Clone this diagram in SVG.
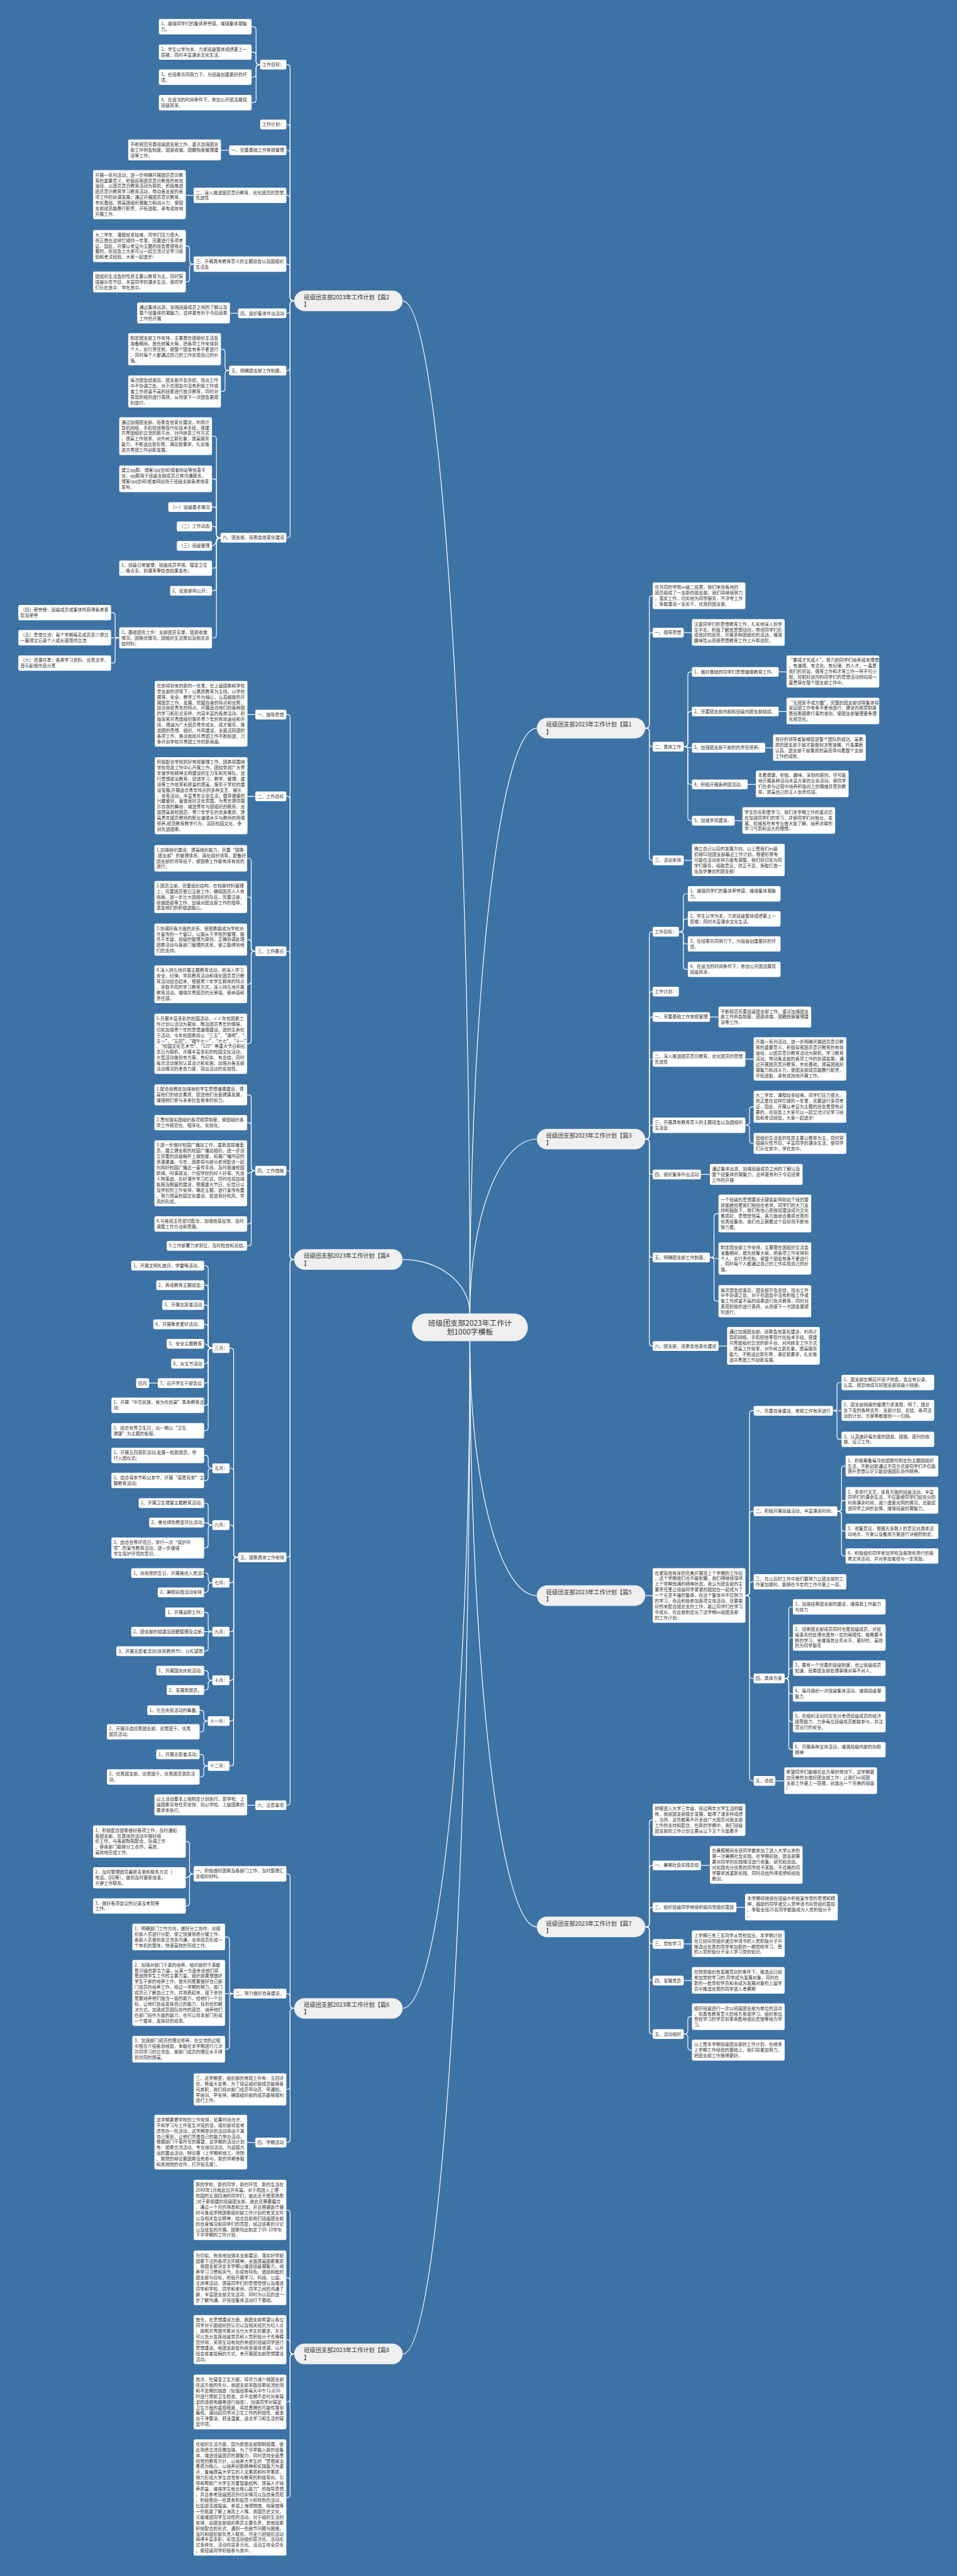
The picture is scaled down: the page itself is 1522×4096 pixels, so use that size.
<svg xmlns="http://www.w3.org/2000/svg" width="1522" height="4096" viewBox="0 0 1522 4096">
<style>
rect{fill:#fff}
rect.m{fill:#efefef}
text{font-family:"Noto Sans CJK SC","Noto Sans",sans-serif;font-size:11.8px;fill:#333}
text.t2{font-size:15.5px}
text.t0{font-size:20px}
.c path{fill:none;stroke:#fff;stroke-width:2}
</style>
<rect x="0" y="0" width="1522" height="4096" style="fill:#3d72a5"/>
<g transform="scale(0.59453)">
<g class="c" id="connectors">
<path d="M1257 3513C1257 2018 1176.4 804.5 1077 804.5"/>
<path d="M1257 3513C1257 2649 1337.2 1947.5 1436 1947.5"/>
<path d="M1257 3513C1257 3255.5 1337.2 3046.5 1436 3046.5"/>
<path d="M1257 3513C1257 3433.2 1176.4 3368.5 1077 3368.5"/>
<path d="M1257 3587C1257 3962.6 1337.2 4267.5 1436 4267.5"/>
<path d="M1257 3587C1257 4571.8 1176.4 5371 1077 5371"/>
<path d="M1257 3587C1257 4451.7 1337.2 5153.5 1436 5153.5"/>
<path d="M1257 3587C1257 5082.4 1176.4 6296 1077 6296"/>
<path d="M1726 1947.5Q1737 1947.5 1737 1939.5V1601.5Q1737 1593.5 1745 1593.5H1746"/>
<path d="M1726 1947.5Q1737 1947.5 1737 1939.5V1700Q1737 1692 1745 1692H1746"/>
<path d="M1726 1947.5Q1737 1947.5 1737 1955.5V1989Q1737 1997 1745 1997H1746"/>
<path d="M1726 1947.5Q1737 1947.5 1737 1955.5V2293Q1737 2301 1745 2301H1746"/>
<path d="M1829 1692H1851"/>
<path d="M1829 1997Q1840 1997 1840 1989V1805Q1840 1797 1848 1797H1851"/>
<path d="M1829 1997Q1840 1997 1840 1989V1911Q1840 1903 1848 1903H1851"/>
<path d="M1829 1997C1840 1997 1840 2000 1851 2000"/>
<path d="M1829 1997Q1840 1997 1840 2005V2090Q1840 2098 1848 2098H1851"/>
<path d="M1829 1997Q1840 1997 1840 2005V2187Q1840 2195 1848 2195H1851"/>
<path d="M2083 1797H2104"/><path d="M2083 1903H2104"/><path d="M2047 2000H2068"/><path d="M2000 2098H2022"/><path d="M1965 2195H1986"/>
<path d="M1829 2301H1851"/>
<path d="M1726 3046.5Q1737 3046.5 1737 3038.5V2500Q1737 2492 1745 2492H1746"/>
<path d="M1726 3046.5Q1737 3046.5 1737 3038.5V2660Q1737 2652 1745 2652H1746"/>
<path d="M1726 3046.5Q1737 3046.5 1737 3038.5V2728Q1737 2720 1745 2720H1746"/>
<path d="M1726 3046.5Q1737 3046.5 1737 3038.5V2840.5Q1737 2832.5 1745 2832.5H1746"/>
<path d="M1726 3046.5Q1737 3046.5 1737 3038.5V3017.5Q1737 3009.5 1745 3009.5H1746"/>
<path d="M1726 3046.5Q1737 3046.5 1737 3054.5V3133Q1737 3141 1745 3141H1746"/>
<path d="M1726 3046.5Q1737 3046.5 1737 3054.5V3355Q1737 3363 1745 3363H1746"/>
<path d="M1726 3046.5Q1737 3046.5 1737 3054.5V3592Q1737 3600 1745 3600H1746"/>
<path d="M1816 2492Q1828 2492 1828 2484V2398.5Q1828 2390.5 1836 2390.5H1840"/>
<path d="M1816 2492Q1828 2492 1828 2484V2465.5Q1828 2457.5 1836 2457.5H1840"/>
<path d="M1816 2492Q1828 2492 1828 2500V2516.5Q1828 2524.5 1836 2524.5H1840"/>
<path d="M1816 2492Q1828 2492 1828 2500V2584.5Q1828 2592.5 1836 2592.5H1840"/>
<path d="M1899 2720H1922"/>
<path d="M1994 2832.5H2016"/>
<path d="M1994 3009.5Q2005 3009.5 2005 3001.5V2968Q2005 2960 2013 2960H2016"/>
<path d="M1994 3009.5Q2005 3009.5 2005 3017.5V3050Q2005 3058 2013 3058H2016"/>
<path d="M1875 3141H1899"/>
<path d="M1899 3363Q1910 3363 1910 3355V3253.5Q1910 3245.5 1918 3245.5H1922"/>
<path d="M1899 3363C1910 3363 1910 3366 1922 3366"/>
<path d="M1899 3363Q1910 3363 1910 3371V3472Q1910 3480 1918 3480H1922"/>
<path d="M1922 3600H1945"/>
<path d="M1726 4267.5H1746"/>
<path d="M1994 4267Q2005 4267 2005 4259V3781Q2005 3773 2013 3773H2016"/>
<path d="M1994 4267Q2005 4267 2005 4259V4050Q2005 4042 2013 4042H2016"/>
<path d="M1994 4267Q2005 4267 2005 4259V4238.5Q2005 4230.5 2013 4230.5H2016"/>
<path d="M1994 4267Q2005 4267 2005 4275V4481Q2005 4489 2013 4489H2016"/>
<path d="M1994 4267Q2005 4267 2005 4275V4755Q2005 4763 2013 4763H2016"/>
<path d="M2228 3773Q2239 3773 2239 3765V3705.5Q2239 3697.5 2247 3697.5H2251"/>
<path d="M2228 3773H2251"/>
<path d="M2228 3773Q2239 3773 2239 3781V3841.5Q2239 3849.5 2247 3849.5H2251"/>
<path d="M2240 4042Q2251 4042 2251 4034V3929Q2251 3921 2259 3921H2262"/>
<path d="M2240 4042Q2251 4042 2251 4034V4020.5Q2251 4012.5 2259 4012.5H2262"/>
<path d="M2240 4042Q2251 4042 2251 4050V4087.5Q2251 4095.5 2259 4095.5H2262"/>
<path d="M2240 4042Q2251 4042 2251 4050V4153.5Q2251 4161.5 2259 4161.5H2262"/>
<path d="M2099 4489Q2110 4489 2110 4481V4305.5Q2110 4297.5 2118 4297.5H2121"/>
<path d="M2099 4489Q2110 4489 2110 4481V4387.5Q2110 4379.5 2118 4379.5H2121"/>
<path d="M2099 4489Q2110 4489 2110 4481V4469.5Q2110 4461.5 2118 4461.5H2121"/>
<path d="M2099 4489Q2110 4489 2110 4497V4522.5Q2110 4530.5 2118 4530.5H2121"/>
<path d="M2099 4489Q2110 4489 2110 4497V4597Q2110 4605 2118 4605H2121"/>
<path d="M2099 4489Q2110 4489 2110 4497V4671.5Q2110 4679.5 2118 4679.5H2121"/>
<path d="M2074 4763H2098"/>
<path d="M1726 5153.5Q1737 5153.5 1737 5145.5V4875Q1737 4867 1745 4867H1746"/>
<path d="M1726 5153.5Q1737 5153.5 1737 5145.5V4997Q1737 4989 1745 4989H1746"/>
<path d="M1726 5153.5Q1737 5153.5 1737 5145.5V5109Q1737 5101 1745 5101H1746"/>
<path d="M1726 5153.5Q1737 5153.5 1737 5161.5V5191Q1737 5199 1745 5199H1746"/>
<path d="M1726 5153.5Q1737 5153.5 1737 5161.5V5289Q1737 5297 1745 5297H1746"/>
<path d="M1726 5153.5Q1737 5153.5 1737 5161.5V5432Q1737 5440 1745 5440H1746"/>
<path d="M1875 4989H1899"/><path d="M1970 5101H1993"/><path d="M1829 5199H1851"/><path d="M1829 5297H1851"/>
<path d="M1829 5440Q1840 5440 1840 5432V5401.5Q1840 5393.5 1848 5393.5H1851"/>
<path d="M1829 5440Q1840 5440 1840 5448V5475Q1840 5483 1848 5483H1851"/>
<path d="M787 804.5Q776 804.5 776 796.5V181Q776 173 768 173H766"/>
<path d="M787 804.5Q776 804.5 776 796.5V341Q776 333 768 333H766"/>
<path d="M787 804.5Q776 804.5 776 796.5V410Q776 402 768 402H766"/>
<path d="M787 804.5Q776 804.5 776 796.5V530.5Q776 522.5 768 522.5H766"/>
<path d="M787 804.5Q776 804.5 776 796.5V714.5Q776 706.5 768 706.5H766"/>
<path d="M787 804.5Q776 804.5 776 812.5V830Q776 838 768 838H766"/>
<path d="M787 804.5Q776 804.5 776 812.5V983Q776 991 768 991H766"/>
<path d="M787 804.5Q776 804.5 776 812.5V1430Q776 1438 768 1438H766"/>
<path d="M696 173Q685 173 685 165V79.5Q685 71.5 677 71.5H673"/>
<path d="M696 173Q685 173 685 165V147.5Q685 139.5 677 139.5H673"/>
<path d="M696 173Q685 173 685 181V198.5Q685 206.5 677 206.5H673"/>
<path d="M696 173Q685 173 685 181V266.5Q685 274.5 677 274.5H673"/>
<path d="M613 402H591"/>
<path d="M518 522.5H497"/>
<path d="M518 706.5Q507 706.5 507 698.5V666Q507 658 499 658H497"/>
<path d="M518 706.5Q507 706.5 507 714.5V746Q507 754 499 754H497"/>
<path d="M637 838H615"/>
<path d="M613 991Q602 991 602 983V942Q602 934 594 934H591"/>
<path d="M613 991Q602 991 602 999V1039Q602 1047 594 1047H591"/>
<path d="M590 1438Q579 1438 579 1430V1174.5Q579 1166.5 571 1166.5H567"/>
<path d="M590 1438Q579 1438 579 1430V1288.5Q579 1280.5 571 1280.5H567"/>
<path d="M590 1438Q579 1438 579 1430V1364Q579 1356 571 1356H567"/>
<path d="M590 1438Q579 1438 579 1430V1416Q579 1408 571 1408H567"/>
<path d="M590 1438C579 1438 579 1460 567 1460"/>
<path d="M590 1438Q579 1438 579 1446V1511.5Q579 1519.5 571 1519.5H567"/>
<path d="M590 1438Q579 1438 579 1446V1572Q579 1580 571 1580H567"/>
<path d="M590 1438Q579 1438 579 1446V1698Q579 1706 571 1706H567"/>
<path d="M319 1706Q308 1706 308 1698V1646.5Q308 1638.5 300 1638.5H297"/>
<path d="M319 1706H297"/>
<path d="M319 1706Q308 1706 308 1714V1765.5Q308 1773.5 300 1773.5H297"/>
<path d="M787 3368.5Q776 3368.5 776 3360.5V1919Q776 1911 768 1911H766"/>
<path d="M787 3368.5Q776 3368.5 776 3360.5V2138Q776 2130 768 2130H766"/>
<path d="M787 3368.5Q776 3368.5 776 3360.5V2552Q776 2544 768 2544H766"/>
<path d="M787 3368.5Q776 3368.5 776 3360.5V3139Q776 3131 768 3131H766"/>
<path d="M787 3368.5Q776 3368.5 776 3376.5V4157Q776 4165 768 4165H766"/>
<path d="M787 3368.5Q776 3368.5 776 3376.5V4820Q776 4828 768 4828H766"/>
<path d="M683 1911H662"/><path d="M683 2130H662"/>
<path d="M683 2544Q672 2544 672 2536V2303.5Q672 2295.5 664 2295.5H661"/>
<path d="M683 2544Q672 2544 672 2536V2407Q672 2399 664 2399H661"/>
<path d="M683 2544Q672 2544 672 2536V2521Q672 2513 664 2513H661"/>
<path d="M683 2544Q672 2544 672 2552V2624.5Q672 2632.5 664 2632.5H661"/>
<path d="M683 2544Q672 2544 672 2552V2783.5Q672 2791.5 664 2791.5H661"/>
<path d="M683 3131Q672 3131 672 3123V2936Q672 2928 664 2928H661"/>
<path d="M683 3131Q672 3131 672 3123V3010.5Q672 3002.5 664 3002.5H661"/>
<path d="M683 3131C672 3131 672 3138 661 3138"/>
<path d="M683 3131Q672 3131 672 3139V3265.5Q672 3273.5 664 3273.5H661"/>
<path d="M683 3131Q672 3131 672 3139V3324Q672 3332 664 3332H661"/>
<path d="M637 4165Q625 4165 625 4157V3613.5Q625 3605.5 617 3605.5H614"/>
<path d="M637 4165Q625 4165 625 4157V3935Q625 3927 617 3927H614"/>
<path d="M637 4165Q625 4165 625 4157V4087Q625 4079 617 4079H614"/>
<path d="M637 4165Q625 4165 625 4173V4225Q625 4233 617 4233H614"/>
<path d="M637 4165Q625 4165 625 4173V4356Q625 4364 617 4364H614"/>
<path d="M637 4165Q625 4165 625 4173V4486Q625 4494 617 4494H614"/>
<path d="M637 4165Q625 4165 625 4173V4595Q625 4603 617 4603H614"/>
<path d="M637 4165Q625 4165 625 4173V4715Q625 4723 617 4723H614"/>
<path d="M568 3605.5Q557 3605.5 557 3597.5V3393Q557 3385 549 3385H546"/>
<path d="M568 3605.5Q557 3605.5 557 3597.5V3445Q557 3437 549 3437H546"/>
<path d="M568 3605.5Q557 3605.5 557 3597.5V3498Q557 3490 549 3490H546"/>
<path d="M568 3605.5Q557 3605.5 557 3597.5V3550Q557 3542 549 3542H546"/>
<path d="M568 3605.5C557 3605.5 557 3594 546 3594"/>
<path d="M568 3605.5Q557 3605.5 557 3613.5V3639Q557 3647 549 3647H546"/>
<path d="M568 3605.5Q557 3605.5 557 3613.5V3691Q557 3699 549 3699H546"/>
<path d="M568 3605.5Q557 3605.5 557 3613.5V3750.5Q557 3758.5 549 3758.5H546"/>
<path d="M568 3605.5Q557 3605.5 557 3613.5V3818Q557 3826 549 3826H546"/>
<path d="M422 3699H399"/>
<path d="M568 3927Q557 3927 557 3919V3900.5Q557 3892.5 549 3892.5H546"/>
<path d="M568 3927Q557 3927 557 3935V3952Q557 3960 549 3960H546"/>
<path d="M568 4079Q557 4079 557 4071V4028Q557 4020 549 4020H546"/>
<path d="M568 4079C557 4079 557 4072 546 4072"/>
<path d="M568 4079Q557 4079 557 4087V4132Q557 4140 549 4140H546"/>
<path d="M568 4233Q557 4233 557 4225V4215Q557 4207 549 4207H546"/>
<path d="M568 4233Q557 4233 557 4241V4251Q557 4259 549 4259H546"/>
<path d="M568 4364Q557 4364 557 4356V4320Q557 4312 549 4312H546"/>
<path d="M568 4364H546"/>
<path d="M568 4364Q557 4364 557 4372V4408Q557 4416 549 4416H546"/>
<path d="M568 4494Q557 4494 557 4486V4476Q557 4468 549 4468H546"/>
<path d="M568 4494Q557 4494 557 4502V4512Q557 4520 549 4520H546"/>
<path d="M556 4603Q545 4603 545 4595V4582Q545 4574 537 4574H534"/>
<path d="M556 4603Q545 4603 545 4611V4624Q545 4632 537 4632H534"/>
<path d="M556 4723Q545 4723 545 4715V4700Q545 4692 537 4692H534"/>
<path d="M556 4723Q545 4723 545 4731V4744.5Q545 4752.5 537 4752.5H534"/>
<path d="M683 4828H661"/>
<path d="M787 5371Q776 5371 776 5363V5019.5Q776 5011.5 768 5011.5H766"/>
<path d="M787 5371Q776 5371 776 5363V5340Q776 5332 768 5332H766"/>
<path d="M787 5371Q776 5371 776 5379V5580Q776 5588 768 5588H766"/>
<path d="M787 5371Q776 5371 776 5379V5722Q776 5730 768 5730H766"/>
<path d="M518 5011.5Q507 5011.5 507 5003.5V4933Q507 4925 499 4925H497"/>
<path d="M518 5011.5C507 5011.5 507 5022 497 5022"/>
<path d="M518 5011.5Q507 5011.5 507 5019.5V5089.5Q507 5097.5 499 5097.5H497"/>
<path d="M625 5332Q614 5332 614 5324V5188.5Q614 5180.5 606 5180.5H602"/>
<path d="M625 5332H602"/>
<path d="M625 5332Q614 5332 614 5340V5472.5Q614 5480.5 606 5480.5H602"/>
<path d="M683 5730H661"/>
<path d="M787 6296Q776 6296 776 6288V5918.5Q776 5910.5 768 5910.5H766"/>
<path d="M787 6296Q776 6296 776 6288V6100Q776 6092 768 6092H766"/>
<path d="M787 6296Q776 6296 776 6288V6265.5Q776 6257.5 768 6257.5H766"/>
<path d="M787 6296Q776 6296 776 6304V6416Q776 6424 768 6424H766"/>
<path d="M787 6296Q776 6296 776 6304V6671.5Q776 6679.5 768 6679.5H766"/>
</g>

<g id="center"><rect class="m" x="1102" y="3513" width="310" height="74" rx="37"/><text class="t0" x="1257" y="3545" text-anchor="middle"><tspan x="1257">班级团支部2023年工作计</tspan><tspan x="1257" dy="25">划1000字模板</tspan></text></g>

<g id="R1"><rect class="m" x="1436" y="1920" width="290" height="55" rx="27.5"/><text class="t2" x="1461" y="1943.5"><tspan x="1461">班级团支部2023年工作计划【篇1</tspan><tspan x="1461" dy="19">】</tspan></text></g>
<g id="R1a"><rect x="1746" y="1558" width="248" height="71" rx="4"/><text x="1751.5" y="1575"><tspan x="1751.5">在共同的学院xx级二班里，我们来自各地的</tspan><tspan x="1751.5" dy="15">团员组成了一支新的团支部。我们将继续努力</tspan><tspan x="1751.5" dy="15">，落实工作，切实地为同学服务，不浮夸工作</tspan><tspan x="1751.5" dy="15">，争取建设一支实干、优良的团支部。</tspan></text></g>
<g id="R1b"><rect x="1746" y="1679" width="83" height="26" rx="4"/><text x="1751.5" y="1696">一、指导思想</text></g>
<g id="R1b1"><rect x="1851" y="1656" width="248" height="71" rx="4"/><text x="1856.5" y="1673"><tspan x="1856.5">注重同学们的思想教育工作，扎实地深入到学</tspan><tspan x="1856.5" dy="15">生中去，积极了解其思想动向，带领同学们形</tspan><tspan x="1856.5" dy="15">成良好的班风，开展多种团组织的活动，增强</tspan><tspan x="1856.5" dy="15">趣味性从而使思想教育工作上升新台阶。</tspan></text></g>
<g id="R1c"><rect x="1746" y="1984" width="83" height="26" rx="4"/><text x="1751.5" y="2001">二、具体工作</text></g>
<g id="R1c1"><rect x="1851" y="1784" width="232" height="26" rx="4"/><text x="1856.5" y="1801">1、做好基础的同学们思想道德教育工作。</text></g>
<g id="R1c1a"><rect x="2104" y="1753" width="248" height="86" rx="4"/><text x="2109.5" y="1770"><tspan x="2109.5">“要成才先成人”。努力把同学们培养成有理想</tspan><tspan x="2109.5" dy="15">、有道德、有文化、有纪律、的人才，一直是</tspan><tspan x="2109.5" dy="15">我们的宗旨。德育工作和才育工作一样不可小</tspan><tspan x="2109.5" dy="15">视。控制好班内的同学们的思想活动倾向将一</tspan><tspan x="2109.5" dy="15">直贯穿在整个团支部工作中。</tspan></text></g>
<g id="R1c2"><rect x="1851" y="1890" width="232" height="26" rx="4"/><text x="1856.5" y="1907">2、完善团支部内部和班级内团支部组成。</text></g>
<g id="R1c2a"><rect x="2104" y="1866" width="248" height="71" rx="4"/><text x="2109.5" y="1883"><tspan x="2109.5">“无规矩不成方圆”，完整的团支部领导集体将</tspan><tspan x="2109.5" dy="15">保证团工作有条不紊地进行，健全的规章制度</tspan><tspan x="2109.5" dy="15">是班委团委行事的准则，使团支部管理更条理</tspan><tspan x="2109.5" dy="15">化规范化。</tspan></text></g>
<g id="R1c3"><rect x="1851" y="1987" width="196" height="26" rx="4"/><text x="1856.5" y="2004">3、加强团支部干部的的责任修养。</text></g>
<g id="R1c3a"><rect x="2068" y="1964" width="248" height="71" rx="4"/><text x="2073.5" y="1981"><tspan x="2073.5">良好的领导者能够促进整个团队的成功。高素</tspan><tspan x="2073.5" dy="15">质的团支部干部才能做到决策准确、行事果断</tspan><tspan x="2073.5" dy="15">认真。团支部干部素质的高低导向着整个支部</tspan><tspan x="2073.5" dy="15">工作的成败。</tspan></text></g>
<g id="R1c4"><rect x="1851" y="2085" width="149" height="26" rx="4"/><text x="1856.5" y="2102">4、积极开展各种团活动。</text></g>
<g id="R1c4a"><rect x="2022" y="2061" width="248" height="71" rx="4"/><text x="2027.5" y="2078"><tspan x="2027.5">本着健康、积极、趣味、深刻的原则，尽可能</tspan><tspan x="2027.5" dy="15">地开展各种活动丰富大家的业余活动，使同学</tspan><tspan x="2027.5" dy="15">们在参与过程中培养积极向上的情绪并受到教</tspan><tspan x="2027.5" dy="15">育，提高自己的主人翁责任感。</tspan></text></g>
<g id="R1c5"><rect x="1851" y="2182" width="114" height="26" rx="4"/><text x="1856.5" y="2199">5、加强学风建设。</text></g>
<g id="R1c5a"><rect x="1986" y="2159" width="248" height="71" rx="4"/><text x="1991.5" y="2176"><tspan x="1991.5">学生的天职是学习。我们本学期工作的重点仍</tspan><tspan x="1991.5" dy="15">在加强同学们的学习，并使同学们对就业、发</tspan><tspan x="1991.5" dy="15">展、机械系所有专业做大致了解，培养浓厚的</tspan><tspan x="1991.5" dy="15">学习气氛和远大的理想。</tspan></text></g>
<g id="R1d"><rect x="1746" y="2288" width="83" height="26" rx="4"/><text x="1751.5" y="2305">三、活动安排</text></g>
<g id="R1d1"><rect x="1851" y="2257" width="248" height="86" rx="4"/><text x="1856.5" y="2274"><tspan x="1856.5">确立自己以后的发展方向。以上是我们xx级</tspan><tspan x="1856.5" dy="15">机械02班团支部最近工作计划，根据形势有</tspan><tspan x="1856.5" dy="15">可能在活动安排方面有调整。我们将切实为同</tspan><tspan x="1856.5" dy="15">学们服务，吸取意见，改正不足，争取打造一</tspan><tspan x="1856.5" dy="15">支品学兼优的团支部!</tspan></text></g>

<g id="R3"><rect class="m" x="1436" y="3019" width="290" height="55" rx="27.5"/><text class="t2" x="1461" y="3042.5"><tspan x="1461">班级团支部2023年工作计划【篇3</tspan><tspan x="1461" dy="19">】</tspan></text></g>
<g id="R3a"><rect x="1746" y="2479" width="70" height="26" rx="4"/><text x="1751.5" y="2496">工作目标：</text></g>
<g id="R3a1"><rect x="1840" y="2370" width="248" height="41" rx="4"/><text x="1845.5" y="2387"><tspan x="1845.5">1、增强同学们的集体荣誉感、增强集体凝聚</tspan><tspan x="1845.5" dy="15">力。</tspan></text></g>
<g id="R3a2"><rect x="1840" y="2437" width="248" height="41" rx="4"/><text x="1845.5" y="2454"><tspan x="1845.5">2、学生以学为本，力求班级整体成绩更上一</tspan><tspan x="1845.5" dy="15">层楼；同时丰富课余文化生活。</tspan></text></g>
<g id="R3a3"><rect x="1840" y="2504" width="248" height="41" rx="4"/><text x="1845.5" y="2521"><tspan x="1845.5">3、在班委共同努力下，为班级创建更好的环</tspan><tspan x="1845.5" dy="15">境。</tspan></text></g>
<g id="R3a4"><rect x="1840" y="2572" width="248" height="41" rx="4"/><text x="1845.5" y="2589"><tspan x="1845.5">4、在适当的时间条件下，参加公开团活展现</tspan><tspan x="1845.5" dy="15">班级风采。</tspan></text></g>
<g id="R3b"><rect x="1746" y="2639" width="70" height="26" rx="4"/><text x="1751.5" y="2656">工作计划：</text></g>
<g id="R3c"><rect x="1746" y="2707" width="153" height="26" rx="4"/><text x="1751.5" y="2724">一、完善基础工作常规管理</text></g>
<g id="R3c1"><rect x="1922" y="2692" width="248" height="56" rx="4"/><text x="1927.5" y="2709"><tspan x="1927.5">不断规范完善班级团支部工作，重点加强团支</tspan><tspan x="1927.5" dy="15">部工作例会制度、团费收缴、团籍档案管理建</tspan><tspan x="1927.5" dy="15">设等工作。</tspan></text></g>
<g id="R3d"><rect x="1746" y="2812" width="248" height="41" rx="4"/><text x="1751.5" y="2829"><tspan x="1751.5">二、深入推进团员意识教育，优化团员的思想</tspan><tspan x="1751.5" dy="15">先进性</tspan></text></g>
<g id="R3d1"><rect x="2016" y="2774" width="248" height="116" rx="4"/><text x="2021.5" y="2791"><tspan x="2021.5">开展一系列活动，进一步明确开展团员意识教</tspan><tspan x="2021.5" dy="15">育的重要意义，积极探索团员意识教育的有效</tspan><tspan x="2021.5" dy="15">途径。以团员意识教育活动为契机，学习教育</tspan><tspan x="2021.5" dy="15">活动，带动各支部的各项工作的协调发展；通</tspan><tspan x="2021.5" dy="15">过开展团员意识教育，夯实基础，提高团组织</tspan><tspan x="2021.5" dy="15">凝聚力和战斗力，使团支部成员能履行职责，</tspan><tspan x="2021.5" dy="15">开拓进取，卓有成效地开展工作。</tspan></text></g>
<g id="R3e"><rect x="1746" y="2989" width="248" height="41" rx="4"/><text x="1751.5" y="3006"><tspan x="1751.5">三、开展具有教育意义的主题班会以及团组织</tspan><tspan x="1751.5" dy="15">生活会</tspan></text></g>
<g id="R3e1"><rect x="2016" y="2917" width="248" height="86" rx="4"/><text x="2021.5" y="2934"><tspan x="2021.5">大二学年，课程较多较难，同学们压力很大。</tspan><tspan x="2021.5" dy="15">而正是在这样忙碌的一年里，还要进行多项考</tspan><tspan x="2021.5" dy="15">证，因此，开展以考证为主题的班会是很有必</tspan><tspan x="2021.5" dy="15">要的，在班会上大家可以一起交流讨论学习经</tspan><tspan x="2021.5" dy="15">验和考试经验，大家一起进步!</tspan></text></g>
<g id="R3e2"><rect x="2016" y="3030" width="248" height="56" rx="4"/><text x="2021.5" y="3047"><tspan x="2021.5">团组织生活会的性质主要以教育为主，同时穿</tspan><tspan x="2021.5" dy="15">插娱乐性节目，丰富同学的课余生活，使同学</tspan><tspan x="2021.5" dy="15">们乐在其中，学在其中。</tspan></text></g>
<g id="R3f"><rect x="1746" y="3128" width="129" height="26" rx="4"/><text x="1751.5" y="3145">四、组织集体外出活动</text></g>
<g id="R3f1"><rect x="1899" y="3113" width="248" height="56" rx="4"/><text x="1904.5" y="3130"><tspan x="1904.5">通过集体出游，加强班级成员之间的了解以及</tspan><tspan x="1904.5" dy="15">整个班集体的凝聚力，这样更有利于今后班委</tspan><tspan x="1904.5" dy="15">工作的开展</tspan></text></g>
<g id="R3g"><rect x="1746" y="3350" width="153" height="26" rx="4"/><text x="1751.5" y="3367">五、明确团支部工作制度。</text></g>
<g id="R3g1"><rect x="1922" y="3195" width="248" height="101" rx="4"/><text x="1927.5" y="3212"><tspan x="1927.5">一个班级的思想建设无疑会影响到这个班的整</tspan><tspan x="1927.5" dy="15">体面貌但是我们相信在老师、同学们的大力支</tspan><tspan x="1927.5" dy="15">持和鼓励下，我们有信心把我班建设成为文化</tspan><tspan x="1927.5" dy="15">素质好，思想觉悟高，各方面综合素质优秀的</tspan><tspan x="1927.5" dy="15">优秀班集体。我们也正朝着这个目标而不断地</tspan><tspan x="1927.5" dy="15">努力着。</tspan></text></g>
<g id="R3g2"><rect x="1922" y="3323" width="248" height="86" rx="4"/><text x="1927.5" y="3340"><tspan x="1927.5">制定团支部工作安排。主要是在团组织生活会</tspan><tspan x="1927.5" dy="15">准备期间，首先统筹大局，把各项工作安排到</tspan><tspan x="1927.5" dy="15">个人，实行责任制，使整个团会有条不紊进行</tspan><tspan x="1927.5" dy="15">，同时每个人都通过自己的工作实现自己的价</tspan><tspan x="1927.5" dy="15">值。</tspan></text></g>
<g id="R3g3"><rect x="1922" y="3437" width="248" height="86" rx="4"/><text x="1927.5" y="3454"><tspan x="1927.5">每次团会结束后，团支部开会总结，找出工作</tspan><tspan x="1927.5" dy="15">中不协调之处。对于在团会中没有积极工作或</tspan><tspan x="1927.5" dy="15">者工作质量不高的班委进行批评教育，同时对</tspan><tspan x="1927.5" dy="15">表现积极的进行表扬，从而使下一次团会更顺</tspan><tspan x="1927.5" dy="15">利进行。</tspan></text></g>
<g id="R3h"><rect x="1746" y="3587" width="176" height="26" rx="4"/><text x="1751.5" y="3604">六、团支部、班委会信息化建设</text></g>
<g id="R3h1"><rect x="1945" y="3549" width="248" height="101" rx="4"/><text x="1950.5" y="3566"><tspan x="1950.5">通过加强团支部、班委会信息化建设，利用计</tspan><tspan x="1950.5" dy="15">算机网络、手机短信等现代化技术手段，搭建</tspan><tspan x="1950.5" dy="15">共青团组织交流的新平台，对内转变工作方式</tspan><tspan x="1950.5" dy="15">、提高工作效率，对外树立新形象，提高服务</tspan><tspan x="1950.5" dy="15">能力，不断适应新形势，满足新要求，扎实推</tspan><tspan x="1950.5" dy="15">进共青团工作创新发展。</tspan></text></g>

<g id="R5"><rect class="m" x="1436" y="4240" width="290" height="55" rx="27.5"/><text class="t2" x="1461" y="4263.5"><tspan x="1461">班级团支部2023年工作计划【篇5</tspan><tspan x="1461" dy="19">】</tspan></text></g>
<g id="R5a"><rect x="1746" y="4194" width="248" height="146" rx="4"/><text x="1751.5" y="4211"><tspan x="1751.5">在紧张而有序的完美开展完上个学期的工作后</tspan><tspan x="1751.5" dy="15">，这个学期我们也不能松懈，我们得继续保持</tspan><tspan x="1751.5" dy="15">上个学期饱满的精神状态，我认为团支部的主</tspan><tspan x="1751.5" dy="15">要责任是让班级同学紧紧的团结在一起成为了</tspan><tspan x="1751.5" dy="15">一个无坚不摧的集体，在这个集体中不仅努力</tspan><tspan x="1751.5" dy="15">的学习，而且积极参加各项文体活动，还要更</tspan><tspan x="1751.5" dy="15">好的来配合团总支的工作，能让同学们在学习</tspan><tspan x="1751.5" dy="15">中成长，在此我制定出了这学期xx班团支部</tspan><tspan x="1751.5" dy="15">的工作计划：</tspan></text></g>
<g id="R5a1"><rect x="2016" y="3760" width="212" height="26" rx="4"/><text x="2021.5" y="3777">一、完善自身建设，常规工作有序进行</text></g>
<g id="R5a1a"><rect x="2251" y="3677" width="248" height="41" rx="4"/><text x="2256.5" y="3694"><tspan x="2256.5">1、团支部定期召开班子例会，会议有记录，</tspan><tspan x="2256.5" dy="15">认真、规范地填写好团支部班级小档案。</tspan></text></g>
<g id="R5a1b"><rect x="2251" y="3744" width="248" height="56" rx="4"/><text x="2256.5" y="3761"><tspan x="2256.5">2、团支部档案的管理力求清楚、明了，团总</tspan><tspan x="2256.5" dy="15">支下发的各种文件，支部计划、总结，各项活</tspan><tspan x="2256.5" dy="15">动的计划、方案等都做到一一归档。</tspan></text></g>
<g id="R5a1c"><rect x="2251" y="3829" width="248" height="41" rx="4"/><text x="2256.5" y="3846"><tspan x="2256.5">3、认真做好每年度的团费、团报、团刊的收</tspan><tspan x="2256.5" dy="15">缴、征订工作。</tspan></text></g>
<g id="R5a2"><rect x="2016" y="4029" width="224" height="26" rx="4"/><text x="2021.5" y="4046">二、积极开展班级活动，丰富课余时间；</text></g>
<g id="R5a2a"><rect x="2262" y="3893" width="248" height="56" rx="4"/><text x="2267.5" y="3910"><tspan x="2267.5">1、积极筹备每月校团委所制定的主题团组织</tspan><tspan x="2267.5" dy="15">生活，不断创新通过不同方式使同学们不仅能</tspan><tspan x="2267.5" dy="15">提升思想认识又能加强团队协作精神。</tspan></text></g>
<g id="R5a2b"><rect x="2262" y="3977" width="248" height="71" rx="4"/><text x="2267.5" y="3994"><tspan x="2267.5">2、多举行文艺、体育方面的班级活动，丰富</tspan><tspan x="2267.5" dy="15">同学们的课余生活，不仅能使同学们较充分的</tspan><tspan x="2267.5" dy="15">利用课余时间，减少虚度光阴的情况，还能促</tspan><tspan x="2267.5" dy="15">进同学之间的友情，增强班级的凝聚力。</tspan></text></g>
<g id="R5a2c"><rect x="2262" y="4075" width="248" height="41" rx="4"/><text x="2267.5" y="4092"><tspan x="2267.5">3、收集意见，根据大多数人的意见对具体活</tspan><tspan x="2267.5" dy="15">动地点、方案以及备用方案进行详细的制定。</tspan></text></g>
<g id="R5a2d"><rect x="2262" y="4141" width="248" height="41" rx="4"/><text x="2267.5" y="4158"><tspan x="2267.5">4、积极组织同学参加学校及各院系举行的各</tspan><tspan x="2267.5" dy="15">类文体活动，并对参加者给与一定奖励。</tspan></text></g>
<g id="R5a3"><rect x="2016" y="4210" width="248" height="41" rx="4"/><text x="2021.5" y="4227"><tspan x="2021.5">三、在以后的工作中我们要努力让团支部的工</tspan><tspan x="2021.5" dy="15">作更加顺利，能够在今年的工作中更上一层。</tspan></text></g>
<g id="R5a4"><rect x="2016" y="4476" width="83" height="26" rx="4"/><text x="2021.5" y="4493">四、具体方案</text></g>
<g id="R5a4a"><rect x="2121" y="4277" width="248" height="41" rx="4"/><text x="2126.5" y="4294"><tspan x="2126.5">1、加强班委团支部的建设，增强其工作能力</tspan><tspan x="2126.5" dy="15">与效力</tspan></text></g>
<g id="R5a4b"><rect x="2121" y="4344" width="248" height="71" rx="4"/><text x="2126.5" y="4361"><tspan x="2126.5">2、班委团支部成员同时也是班级成员，对班</tspan><tspan x="2126.5" dy="15">级事务的处理也具有一定的局限性，故需要不</tspan><tspan x="2126.5" dy="15">断的学习，来增强其业务水平，更好的、高效</tspan><tspan x="2126.5" dy="15">的为同学服务</tspan></text></g>
<g id="R5a4c"><rect x="2121" y="4441" width="248" height="41" rx="4"/><text x="2126.5" y="4458"><tspan x="2126.5">3、要有一个完善的班级制度，也让班级成员</tspan><tspan x="2126.5" dy="15">知道，班委团支部处理事情对事不对人。</tspan></text></g>
<g id="R5a4d"><rect x="2121" y="4510" width="248" height="41" rx="4"/><text x="2126.5" y="4527"><tspan x="2126.5">4、每月组织一次班级集体活动，增强班级凝</tspan><tspan x="2126.5" dy="15">聚力</tspan></text></g>
<g id="R5a4e"><rect x="2121" y="4577" width="248" height="56" rx="4"/><text x="2126.5" y="4594"><tspan x="2126.5">5、在组织活动时应充分考虑班级成员的经济</tspan><tspan x="2126.5" dy="15">接受能力，力争每位班级成员都能参与，并注</tspan><tspan x="2126.5" dy="15">意出行的安全。</tspan></text></g>
<g id="R5a4f"><rect x="2121" y="4659" width="248" height="41" rx="4"/><text x="2126.5" y="4676"><tspan x="2126.5">6、开展各种文体活动，增强班级内部的协助</tspan><tspan x="2126.5" dy="15">精神</tspan></text></g>
<g id="R5a5"><rect x="2016" y="4750" width="58" height="26" rx="4"/><text x="2021.5" y="4767">五、总结</text></g>
<g id="R5a5a"><rect x="2098" y="4727" width="248" height="71" rx="4"/><text x="2103.5" y="4744"><tspan x="2103.5">希望同学们能够在此方案的带领下，这学期更</tspan><tspan x="2103.5" dy="15">加完美的去做好团支部工作：让我们xx班团</tspan><tspan x="2103.5" dy="15">支部工作更上一层楼，创造出一个完美的班级</tspan><tspan x="2103.5" dy="15">!</tspan></text></g>

<g id="R7"><rect class="m" x="1436" y="5126" width="290" height="55" rx="27.5"/><text class="t2" x="1461" y="5149.5"><tspan x="1461">班级团支部2023年工作计划【篇7</tspan><tspan x="1461" dy="19">】</tspan></text></g>
<g id="R7a"><rect x="1746" y="4824" width="248" height="86" rx="4"/><text x="1751.5" y="4841"><tspan x="1751.5">转眼进入大学三年级，经过两年大学生活的磨</tspan><tspan x="1751.5" dy="15">练，我班团支部稳步发展，取得了诸多样成绩</tspan><tspan x="1751.5" dy="15">。当然，这些都离不开全班广大团员对我支部</tspan><tspan x="1751.5" dy="15">工作的支持和配合。在新的学期中，我们班级</tspan><tspan x="1751.5" dy="15">团支部的工作计划主要从以下五个方面着手</tspan></text></g>
<g id="R7b"><rect x="1746" y="4976" width="129" height="26" rx="4"/><text x="1751.5" y="4993">一、暑期社会实践总结</text></g>
<g id="R7b1"><rect x="1899" y="4937" width="248" height="101" rx="4"/><text x="1904.5" y="4954"><tspan x="1904.5">在暑假期间全班同学都参加了进入大学以来的</tspan><tspan x="1904.5" dy="15">第一次暑期社会实践。在学期初始，团支部需</tspan><tspan x="1904.5" dy="15">要对同学的实践情况进行收集、研究和总结。</tspan><tspan x="1904.5" dy="15">对实践充分优秀的同学给予奖励，不合格的同</tspan><tspan x="1904.5" dy="15">学要求其重新实践。同时总结所得成绩和经验</tspan><tspan x="1904.5" dy="15">教训。</tspan></text></g>
<g id="R7c"><rect x="1746" y="5088" width="224" height="26" rx="4"/><text x="1751.5" y="5105">二、组织班级同学继续积极向党组织靠拢</text></g>
<g id="R7c1"><rect x="1993" y="5065" width="248" height="71" rx="4"/><text x="1998.5" y="5082"><tspan x="1998.5">本学期将继续在班级中积极宣传党的思想和精</tspan><tspan x="1998.5" dy="15">神，鼓励的同学递交入党申请书向党组织靠拢</tspan><tspan x="1998.5" dy="15">。争取全班25名同学都能成为入党积极分子</tspan><tspan x="1998.5" dy="15">。</tspan></text></g>
<g id="R7d"><rect x="1746" y="5186" width="83" height="26" rx="4"/><text x="1751.5" y="5203">三、党校学习</text></g>
<g id="R7d1"><rect x="1851" y="5163" width="248" height="71" rx="4"/><text x="1856.5" y="5180"><tspan x="1856.5">上学期已有三名同学从党校结业。本学期计划</tspan><tspan x="1856.5" dy="15">在已经向党组织递交申请书的入党积极分子中</tspan><tspan x="1856.5" dy="15">推选出优秀的同学参加新的一期党校学习，是</tspan><tspan x="1856.5" dy="15">的入党积极分子深入学习党的知识。</tspan></text></g>
<g id="R7e"><rect x="1746" y="5284" width="83" height="26" rx="4"/><text x="1751.5" y="5301">四、发展党员</text></g>
<g id="R7e1"><rect x="1851" y="5261" width="248" height="71" rx="4"/><text x="1856.5" y="5278"><tspan x="1856.5">在院党组织有发展意向的条件下，推选出已经</tspan><tspan x="1856.5" dy="15">参加党校学习的.同学成为发展对象。同时在</tspan><tspan x="1856.5" dy="15">新的一批党校学员和未成为发展对象的上届学</tspan><tspan x="1856.5" dy="15">员中推选优秀的同学进入考察期</tspan></text></g>
<g id="R7f"><rect x="1746" y="5427" width="83" height="26" rx="4"/><text x="1751.5" y="5444">五、活动组织</text></g>
<g id="R7f1"><rect x="1851" y="5358" width="248" height="71" rx="4"/><text x="1856.5" y="5375"><tspan x="1856.5">组织班级进行一次以班级团支部为单位的活动</tspan><tspan x="1856.5" dy="15">。到具有教育意义的地方参观学习。组织参加</tspan><tspan x="1856.5" dy="15">党校学习的学员到革命胜地或纪念馆等地方学</tspan><tspan x="1856.5" dy="15">习。</tspan></text></g>
<g id="R7f2"><rect x="1851" y="5455" width="248" height="56" rx="4"/><text x="1856.5" y="5472"><tspan x="1856.5">以上是本学期班级团支部的工作计划。在继承</tspan><tspan x="1856.5" dy="15">上学期工作经验的基础上，我们将更加努力，</tspan><tspan x="1856.5" dy="15">把团支部工作做得更好。</tspan></text></g>

<g id="L2"><rect class="m" x="787" y="777" width="290" height="55" rx="27.5"/><text class="t2" x="813" y="800.5"><tspan x="813">班级团支部2023年工作计划【篇2</tspan><tspan x="813" dy="19">】</tspan></text></g>
<g id="L2a"><rect x="696" y="160" width="70" height="26" rx="4"/><text x="701.5" y="177">工作目标：</text></g>
<g id="L2a1"><rect x="425" y="51" width="248" height="41" rx="4"/><text x="430.5" y="68"><tspan x="430.5">1、增强同学们的集体荣誉感、增强集体凝聚</tspan><tspan x="430.5" dy="15">力。</tspan></text></g>
<g id="L2a2"><rect x="425" y="119" width="248" height="41" rx="4"/><text x="430.5" y="136"><tspan x="430.5">2、学生以学为本，力求班级整体成绩更上一</tspan><tspan x="430.5" dy="15">层楼；同时丰富课余文化生活。</tspan></text></g>
<g id="L2a3"><rect x="425" y="186" width="248" height="41" rx="4"/><text x="430.5" y="203"><tspan x="430.5">3、在班委共同努力下，为班级创建更好的环</tspan><tspan x="430.5" dy="15">境。</tspan></text></g>
<g id="L2a4"><rect x="425" y="254" width="248" height="41" rx="4"/><text x="430.5" y="271"><tspan x="430.5">4、在适当的时间条件下，参加公开团活展现</tspan><tspan x="430.5" dy="15">班级风采。</tspan></text></g>
<g id="L2b"><rect x="696" y="320" width="70" height="26" rx="4"/><text x="701.5" y="337">工作计划：</text></g>
<g id="L2c"><rect x="613" y="389" width="153" height="26" rx="4"/><text x="618.5" y="406">一、完善基础工作常规管理</text></g>
<g id="L2c1"><rect x="343" y="373" width="248" height="56" rx="4"/><text x="348.5" y="390"><tspan x="348.5">不断规范完善班级团支部工作，重点加强团支</tspan><tspan x="348.5" dy="15">部工作例会制度、团费收缴、团籍档案管理建</tspan><tspan x="348.5" dy="15">设等工作。</tspan></text></g>
<g id="L2d"><rect x="518" y="502" width="248" height="41" rx="4"/><text x="523.5" y="519"><tspan x="523.5">二、深入推进团员意识教育，优化团员的思想</tspan><tspan x="523.5" dy="15">先进性</tspan></text></g>
<g id="L2d1"><rect x="249" y="455" width="248" height="131" rx="4"/><text x="254.5" y="472"><tspan x="254.5">开展一系列活动，进一步明确开展团员意识教</tspan><tspan x="254.5" dy="15">育的重要意义，积极探索团员意识教育的有效</tspan><tspan x="254.5" dy="15">途径。以团员意识教育活动为契机，积极推进</tspan><tspan x="254.5" dy="15">团员意识教育学习教育活动，带动各支部的各</tspan><tspan x="254.5" dy="15">项工作的协调发展；通过开展团员意识教育，</tspan><tspan x="254.5" dy="15">夯实基础，提高团组织凝聚力和战斗力，使团</tspan><tspan x="254.5" dy="15">支部成员能履行职责，开拓进取，卓有成效地</tspan><tspan x="254.5" dy="15">开展工作。</tspan></text></g>
<g id="L2e"><rect x="518" y="686" width="248" height="41" rx="4"/><text x="523.5" y="703"><tspan x="523.5">三、开展具有教育意义的主题班会以及团组织</tspan><tspan x="523.5" dy="15">生活会</tspan></text></g>
<g id="L2e1"><rect x="249" y="615" width="248" height="86" rx="4"/><text x="254.5" y="632"><tspan x="254.5">大二学年，课程较多较难，同学们压力很大。</tspan><tspan x="254.5" dy="15">而正是在这样忙碌的一年里，还要进行多项考</tspan><tspan x="254.5" dy="15">证，因此，开展以考证为主题的班会是很有必</tspan><tspan x="254.5" dy="15">要的，在班会上大家可以一起交流讨论学习经</tspan><tspan x="254.5" dy="15">验和考试经验，大家一起进步!</tspan></text></g>
<g id="L2e2"><rect x="249" y="726" width="248" height="56" rx="4"/><text x="254.5" y="743"><tspan x="254.5">团组织生活会的性质主要以教育为主，同时穿</tspan><tspan x="254.5" dy="15">插娱乐性节目，丰富同学的课余生活，使同学</tspan><tspan x="254.5" dy="15">们乐在其中，学在其中。</tspan></text></g>
<g id="L2f"><rect x="637" y="825" width="129" height="26" rx="4"/><text x="642.5" y="842">四、组织集体外出活动</text></g>
<g id="L2f1"><rect x="367" y="809" width="248" height="56" rx="4"/><text x="372.5" y="826"><tspan x="372.5">通过集体出游，加强班级成员之间的了解以及</tspan><tspan x="372.5" dy="15">整个班集体的凝聚力，这样更有利于今后班委</tspan><tspan x="372.5" dy="15">工作的开展</tspan></text></g>
<g id="L2g"><rect x="613" y="978" width="153" height="26" rx="4"/><text x="618.5" y="995">五、明确团支部工作制度。</text></g>
<g id="L2g1"><rect x="343" y="891" width="248" height="86" rx="4"/><text x="348.5" y="908"><tspan x="348.5">制定团支部工作安排。主要是在团组织生活会</tspan><tspan x="348.5" dy="15">准备期间，首先统筹大局，把各项工作安排到</tspan><tspan x="348.5" dy="15">个人，实行责任制，使整个团会有条不紊进行</tspan><tspan x="348.5" dy="15">，同时每个人都通过自己的工作实现自己的价</tspan><tspan x="348.5" dy="15">值。</tspan></text></g>
<g id="L2g2"><rect x="343" y="1004" width="248" height="86" rx="4"/><text x="348.5" y="1021"><tspan x="348.5">每次团会结束后，团支部开会总结，找出工作</tspan><tspan x="348.5" dy="15">中不协调之处。对于在团会中没有积极工作或</tspan><tspan x="348.5" dy="15">者工作质量不高的班委进行批评教育，同时对</tspan><tspan x="348.5" dy="15">表现积极的进行表扬，从而使下一次团会更顺</tspan><tspan x="348.5" dy="15">利进行。</tspan></text></g>
<g id="L2h"><rect x="590" y="1425" width="176" height="26" rx="4"/><text x="595.5" y="1442">六、团支部、班委会信息化建设</text></g>
<g id="L2h1"><rect x="319" y="1116" width="248" height="101" rx="4"/><text x="324.5" y="1133"><tspan x="324.5">通过加强团支部、班委会信息化建设，利用计</tspan><tspan x="324.5" dy="15">算机网络、手机短信等现代化技术手段，搭建</tspan><tspan x="324.5" dy="15">共青团组织交流的新平台，对内转变工作方式</tspan><tspan x="324.5" dy="15">、提高工作效率，对外树立新形象，提高服务</tspan><tspan x="324.5" dy="15">能力，不断适应新形势，满足新要求，扎实推</tspan><tspan x="324.5" dy="15">进共青团工作创新发展。</tspan></text></g>
<g id="L2h2"><rect x="319" y="1245" width="248" height="71" rx="4"/><text x="324.5" y="1262"><tspan x="324.5">建立qq群、博客(qq空间)或者网站等信息平</tspan><tspan x="324.5" dy="15">台；qq群用于班级支部成员日常沟通联系，</tspan><tspan x="324.5" dy="15">博客(qq空间)或者网站用于班级支部各类信息</tspan><tspan x="324.5" dy="15">发布。</tspan></text></g>
<g id="L2h3"><rect x="450" y="1343" width="117" height="26" rx="4"/><text x="455.5" y="1360">（一）班级基本情况</text></g>
<g id="L2h4"><rect x="473" y="1395" width="94" height="26" rx="4"/><text x="478.5" y="1412">（二）工作动态</text></g>
<g id="L2h5"><rect x="473" y="1447" width="94" height="26" rx="4"/><text x="478.5" y="1464">（三）班级管理</text></g>
<g id="L2h6"><rect x="319" y="1499" width="248" height="41" rx="4"/><text x="324.5" y="1516"><tspan x="324.5">1、班级日常管理：班级成员早操、寝室卫生</tspan><tspan x="324.5" dy="15">、晚点名、到课率等检查结果发布；</tspan></text></g>
<g id="L2h7"><rect x="455" y="1567" width="112" height="26" rx="4"/><text x="460.5" y="1584">2、班费使用公开；</text></g>
<g id="L2h8"><rect x="319" y="1678" width="248" height="56" rx="4"/><text x="324.5" y="1695"><tspan x="324.5">3、基础团务工作：支部团员名单、团费收缴</tspan><tspan x="324.5" dy="15">情况、团推优情况、团组织生活策划及相关总</tspan><tspan x="324.5" dy="15">结材料；</tspan></text></g>
<g id="L2h8a"><rect x="49" y="1618" width="248" height="41" rx="4"/><text x="54.5" y="1635"><tspan x="54.5">（四）荣誉榜：班级成员或集体所获得各类表</tspan><tspan x="54.5" dy="15">彰及荣誉</tspan></text></g>
<g id="L2h8b"><rect x="49" y="1685" width="248" height="41" rx="4"/><text x="54.5" y="1702"><tspan x="54.5">（五）思想交流：每个学期每名成员至少提交</tspan><tspan x="54.5" dy="15">一篇博文记录个人成长感悟供交流</tspan></text></g>
<g id="L2h8c"><rect x="49" y="1753" width="248" height="41" rx="4"/><text x="54.5" y="1770"><tspan x="54.5">（六）资源共享：各类学习资料、优秀文学、</tspan><tspan x="54.5" dy="15">音乐影视作品分享</tspan></text></g>

<g id="L4"><rect class="m" x="787" y="3341" width="290" height="55" rx="27.5"/><text class="t2" x="813" y="3364.5"><tspan x="813">班级团支部2023年工作计划【篇4</tspan><tspan x="813" dy="19">】</tspan></text></g>
<g id="L4a"><rect x="683" y="1898" width="83" height="26" rx="4"/><text x="688.5" y="1915">一、指导思想</text></g>
<g id="L4a1"><rect x="414" y="1821" width="248" height="176" rx="4"/><text x="419.5" y="1838"><tspan x="419.5">在即将到来的新的一年里，在上级团委和学校</tspan><tspan x="419.5" dy="15">党支部的领导下，以素质教育为主线，以学校</tspan><tspan x="419.5" dy="15">德育、安全、教学工作为轴心，认真细致的开</tspan><tspan x="419.5" dy="15">展团员工作，发展、挖掘自身的特点和优势，</tspan><tspan x="419.5" dy="15">结合我校青年的特点，开展适合他们的各种团</tspan><tspan x="419.5" dy="15">的学习和形式多样、内容丰富的各类活动，积</tspan><tspan x="419.5" dy="15">极探索共青团组织服务青少年的有效途径和手</tspan><tspan x="419.5" dy="15">段，竭诚为广大团员青年成长、成才服务，推</tspan><tspan x="419.5" dy="15">进团的思想、组织、作风建设，全面活跃团的</tspan><tspan x="419.5" dy="15">各项工作，推动我校共青团工作不断前进，力</tspan><tspan x="419.5" dy="15">争开创学校共青团工作的新局面。</tspan></text></g>
<g id="L4b"><rect x="683" y="2117" width="83" height="26" rx="4"/><text x="688.5" y="2134">二、工作目标</text></g>
<g id="L4b1"><rect x="414" y="2025" width="248" height="206" rx="4"/><text x="419.5" y="2042"><tspan x="419.5">积极配合学校抓好常规管理工作，团委将围绕</tspan><tspan x="419.5" dy="15">学校党政工作中心开展工作，团结带领广大青</tspan><tspan x="419.5" dy="15">年做学校精神文明建设的生力军和先锋队。进</tspan><tspan x="419.5" dy="15">行思想政治教育，促进学习、教学、管理、建</tspan><tspan x="419.5" dy="15">设等工作效率和质量的提高，服务于学校的建</tspan><tspan x="419.5" dy="15">设发展;开展适合青年特点的多种文艺、娱乐</tspan><tspan x="419.5" dy="15">、体育活动，丰富青年业余生活，倡导健康的</tspan><tspan x="419.5" dy="15">兴趣爱好，营造良好文化氛围。为青年提供展</tspan><tspan x="419.5" dy="15">示自我的舞台，增进青年与团组织的联系。全</tspan><tspan x="419.5" dy="15">面提高我校团员、青少年学生的自身素质，提</tspan><tspan x="419.5" dy="15">高青年团员教师的职业道德水平与教师的师德</tspan><tspan x="419.5" dy="15">修养,规范教育教学行为，活跃校园文化，争</tspan><tspan x="419.5" dy="15">创先进团委。</tspan></text></g>
<g id="L4c"><rect x="683" y="2531" width="83" height="26" rx="4"/><text x="688.5" y="2548">三、工作要点</text></g>
<g id="L4c1"><rect x="413" y="2260" width="248" height="71" rx="4"/><text x="418.5" y="2277"><tspan x="418.5">1.加强组织建设，提高组织能力，完善“团委-</tspan><tspan x="418.5" dy="15">-团支部”的管理体系，强化组织领导，配备好</tspan><tspan x="418.5" dy="15">团支部的领导班子，使团委工作能有序有效的</tspan><tspan x="418.5" dy="15">进行。</tspan></text></g>
<g id="L4c2"><rect x="413" y="2356" width="248" height="86" rx="4"/><text x="418.5" y="2373"><tspan x="418.5">2.团员注册，完善组织结构。在档案材料管理</tspan><tspan x="418.5" dy="15">上，完善团员登记注册工作，确保团员人人有</tspan><tspan x="418.5" dy="15">档案。进一步壮大团组织的队伍，完善注册、</tspan><tspan x="418.5" dy="15">收缴团费等工作，加强对团支部工作的指导，</tspan><tspan x="418.5" dy="15">激发他们的积极进取心。</tspan></text></g>
<g id="L4c3"><rect x="413" y="2470" width="248" height="86" rx="4"/><text x="418.5" y="2487"><tspan x="418.5">3.协调好各方面的关系，使团委能成为学校对</tspan><tspan x="418.5" dy="15">外宣传的一个窗口，以服从于学校的管理、服</tspan><tspan x="418.5" dy="15">务于年级、班级的管理为原则，正确协调处理</tspan><tspan x="418.5" dy="15">团委活动与各部门管理的关系，使之能得到他</tspan><tspan x="418.5" dy="15">们的支持。</tspan></text></g>
<g id="L4c4"><rect x="413" y="2582" width="248" height="101" rx="4"/><text x="418.5" y="2599"><tspan x="418.5">4.深入持久地开展主题教育活动，把深入学习</tspan><tspan x="418.5" dy="15">安全、纪律、学风教育活动和强化团员意识教</tspan><tspan x="418.5" dy="15">育活动结合起来，根据青少年学生群体的特点</tspan><tspan x="418.5" dy="15">，采取不同的学习教育方式，深入持久地开展</tspan><tspan x="418.5" dy="15">教育活动。增强共青团员的光荣感、使命感和</tspan><tspan x="418.5" dy="15">责任感。</tspan></text></g>
<g id="L4c5"><rect x="413" y="2711" width="248" height="161" rx="4"/><text x="418.5" y="2728"><tspan x="418.5">5.开展丰富多彩的校园活动，××年校团委工</tspan><tspan x="418.5" dy="15">作计划以活动为载体，陶冶团员青年的情操，</tspan><tspan x="418.5" dy="15">切实加强青少年的思想道德建设。团的生命在</tspan><tspan x="418.5" dy="15">于活动，今年校团委将以“三五”、“清明”、“</tspan><tspan x="418.5" dy="15">五一”、“五四”、“端午七一”、“七七”、“十一”</tspan><tspan x="418.5" dy="15">、“校园文化艺术节”、“129”等重大节日和纪</tspan><tspan x="418.5" dy="15">念日为契机，开展丰富多彩的校园文化活动。</tspan><tspan x="418.5" dy="15">大型活动做到有方案、有纪实、有总结，同时</tspan><tspan x="418.5" dy="15">每次活动做到认真设计和实施，加强对各支部</tspan><tspan x="418.5" dy="15">活动情况的考查力度，突出活动的实效性。</tspan></text></g>
<g id="L4d"><rect x="683" y="3118" width="83" height="26" rx="4"/><text x="688.5" y="3135">四、工作措施</text></g>
<g id="L4d1"><rect x="413" y="2900" width="248" height="56" rx="4"/><text x="418.5" y="2917"><tspan x="418.5">1.配合政教处加强我校学生思想道德建设，提</tspan><tspan x="418.5" dy="15">高他们的综合素质，促进他们全面健康发展，</tspan><tspan x="418.5" dy="15">增强他们参与未来社会竞争的实力。</tspan></text></g>
<g id="L4d2"><rect x="413" y="2982" width="248" height="41" rx="4"/><text x="418.5" y="2999"><tspan x="418.5">2.贯彻落实团组织各项规章制度，使团组织各</tspan><tspan x="418.5" dy="15">项工作规范化、程序化、实效化。</tspan></text></g>
<g id="L4d3"><rect x="413" y="3050" width="248" height="176" rx="4"/><text x="418.5" y="3067"><tspan x="418.5">3.进一步做好校园广播站工作，重新选拔播音</tspan><tspan x="418.5" dy="15">员，建立健全新的校园广播站组织，进一步设</tspan><tspan x="418.5" dy="15">立完善的班级稿件上报制度，拓展广播内容的</tspan><tspan x="418.5" dy="15">资源渠道。今年，团委将与部分老师配合一起</tspan><tspan x="418.5" dy="15">利用好校园广播这一宣传手段，及时报道校园</tspan><tspan x="418.5" dy="15">新闻、时事政治、介绍学校的好人好事、先进</tspan><tspan x="418.5" dy="15">人物事迹、办好课外学习栏目。同时也将加强</tspan><tspan x="418.5" dy="15">板报及橱窗的建设，根据重大节日、纪念日以</tspan><tspan x="418.5" dy="15">及学校的工作安排，确定主题，进行宣传布置</tspan><tspan x="418.5" dy="15">，努力提高校园文化建设，促进良好校风、学</tspan><tspan x="418.5" dy="15">风的形成。</tspan></text></g>
<g id="L4d4"><rect x="413" y="3253" width="248" height="41" rx="4"/><text x="418.5" y="3270"><tspan x="418.5">4.与各班主任密切配合，加强信息反馈，及时</tspan><tspan x="418.5" dy="15">调整工作方法和思路。</tspan></text></g>
<g id="L4d5"><rect x="446" y="3319" width="215" height="26" rx="4"/><text x="451.5" y="3336">5.工作部署力求到位，及时检查和总结。</text></g>
<g id="L4e"><rect x="637" y="4152" width="129" height="26" rx="4"/><text x="642.5" y="4169">五、团委具体工作安排</text></g>
<g id="M3"><rect x="568" y="3592.5" width="46" height="26" rx="4"/><text x="573.5" y="3609.5">三月：</text></g>
<g id="M3a"><rect x="351" y="3372" width="195" height="26" rx="4"/><text x="356.5" y="3389">1、开展文明礼貌月、学雷锋活动。</text></g>
<g id="M3b"><rect x="418" y="3424" width="128" height="26" rx="4"/><text x="423.5" y="3441">2、养成教育主题班会;</text></g>
<g id="M3c"><rect x="434" y="3477" width="112" height="26" rx="4"/><text x="439.5" y="3494">3、开展志愿者活动</text></g>
<g id="M3d"><rect x="410" y="3529" width="136" height="26" rx="4"/><text x="415.5" y="3546">4、开展敬老爱好活动。</text></g>
<g id="M3e"><rect x="446" y="3581" width="100" height="26" rx="4"/><text x="451.5" y="3598">5、安全主题教育</text></g>
<g id="M3f"><rect x="458" y="3634" width="88" height="26" rx="4"/><text x="463.5" y="3651">6、女生节活动</text></g>
<g id="M3g"><rect x="422" y="3686" width="124" height="26" rx="4"/><text x="427.5" y="3703">7、召开学生干部会议</text></g>
<g id="M3g1"><rect x="364" y="3686" width="35" height="26" rx="4"/><text x="369.5" y="3703">四月</text></g>
<g id="M3h"><rect x="298" y="3738" width="248" height="41" rx="4"/><text x="303.5" y="3755"><tspan x="303.5">1、开展“中华民族，我为你自豪”革命教育活</tspan><tspan x="303.5" dy="15">动;</tspan></text></g>
<g id="M3i"><rect x="298" y="3806" width="248" height="41" rx="4"/><text x="303.5" y="3823"><tspan x="303.5">2、结合世界卫生日，出一期以“卫生</tspan><tspan x="303.5" dy="15">健康”为主题的板报。</tspan></text></g>
<g id="M5"><rect x="568" y="3914" width="46" height="26" rx="4"/><text x="573.5" y="3931">五月：</text></g>
<g id="M5a"><rect x="298" y="3872" width="248" height="41" rx="4"/><text x="303.5" y="3889"><tspan x="303.5">1、开展五四表彰活动;发展一批新团员，举</tspan><tspan x="303.5" dy="15">行入团仪式;</tspan></text></g>
<g id="M5b"><rect x="298" y="3939" width="248" height="41" rx="4"/><text x="303.5" y="3956"><tspan x="303.5">2、结合母亲节和父亲节，开展“感恩双亲”主</tspan><tspan x="303.5" dy="15">题教育活动;</tspan></text></g>
<g id="M6"><rect x="568" y="4066" width="46" height="26" rx="4"/><text x="573.5" y="4083">六月：</text></g>
<g id="M6a"><rect x="371" y="4007" width="175" height="26" rx="4"/><text x="376.5" y="4024">1、开展卫生健康主题教育活动;</text></g>
<g id="M6b"><rect x="399" y="4059" width="147" height="26" rx="4"/><text x="404.5" y="4076">2、美化绿色教室评比活动。</text></g>
<g id="M6c"><rect x="298" y="4112" width="248" height="56" rx="4"/><text x="303.5" y="4129"><tspan x="303.5">3、结合世界环境日，举行一次“保护环</tspan><tspan x="303.5" dy="15">境”的宣传教育活动，进一步增强</tspan><tspan x="303.5" dy="15">学生保护环境的意识。</tspan></text></g>
<g id="M7"><rect x="568" y="4220" width="46" height="26" rx="4"/><text x="573.5" y="4237">七月：</text></g>
<g id="M7a"><rect x="351" y="4194" width="195" height="26" rx="4"/><text x="356.5" y="4211">1、庆祝党的生日，开展推优入党活动</text></g>
<g id="M7b"><rect x="422" y="4246" width="124" height="26" rx="4"/><text x="427.5" y="4263">2、暑假实践活动安排</text></g>
<g id="M9"><rect x="568" y="4351" width="46" height="26" rx="4"/><text x="573.5" y="4368">九月：</text></g>
<g id="M9a"><rect x="442" y="4299" width="104" height="26" rx="4"/><text x="447.5" y="4316">1、开展迎新工作;</text></g>
<g id="M9b"><rect x="351" y="4351" width="195" height="26" rx="4"/><text x="356.5" y="4368">2、团支部的组建及团籍整理及注册。</text></g>
<g id="M9c"><rect x="311" y="4403" width="235" height="26" rx="4"/><text x="316.5" y="4420">3、开展志愿者活动(庆祝教师节)：以礼感恩</text></g>
<g id="M10"><rect x="568" y="4481" width="46" height="26" rx="4"/><text x="573.5" y="4498">十月：</text></g>
<g id="M10a"><rect x="418" y="4455" width="128" height="26" rx="4"/><text x="423.5" y="4472">1、开展国庆庆祝活动;</text></g>
<g id="M10b"><rect x="446" y="4507" width="100" height="26" rx="4"/><text x="451.5" y="4524">2、发展新团员。</text></g>
<g id="M11"><rect x="556" y="4590" width="58" height="26" rx="4"/><text x="561.5" y="4607">十一月：</text></g>
<g id="M11a"><rect x="394" y="4561" width="140" height="26" rx="4"/><text x="399.5" y="4578">1、元旦庆祝活动的筹备;</text></g>
<g id="M11b"><rect x="286" y="4611" width="248" height="41" rx="4"/><text x="291.5" y="4628"><tspan x="291.5">2、开展评选优秀团支部、优秀团干、优秀</tspan><tspan x="291.5" dy="15">团员活动;</tspan></text></g>
<g id="M12"><rect x="556" y="4710" width="58" height="26" rx="4"/><text x="561.5" y="4727">十二月：</text></g>
<g id="M12a"><rect x="418" y="4679" width="116" height="26" rx="4"/><text x="423.5" y="4696">1、开展志愿者活动;</text></g>
<g id="M12b"><rect x="286" y="4732" width="248" height="41" rx="4"/><text x="291.5" y="4749"><tspan x="291.5">2、优秀团支部、优秀团干、优秀团员表彰活</tspan><tspan x="291.5" dy="15">动。</tspan></text></g>
<g id="L4f"><rect x="683" y="4815" width="83" height="26" rx="4"/><text x="688.5" y="4832">六、注意事项</text></g>
<g id="L4f1"><rect x="413" y="4799" width="248" height="56" rx="4"/><text x="418.5" y="4816"><tspan x="418.5">以上活动基本上按制定计划执行，若学校、上</tspan><tspan x="418.5" dy="15">级团委另有任务安排，则以学校、上级团委的</tspan><tspan x="418.5" dy="15">要求来执行。</tspan></text></g>

<g id="L6"><rect class="m" x="787" y="5344" width="290" height="55" rx="27.5"/><text class="t2" x="813" y="5367.5"><tspan x="813">班级团支部2023年工作计划【篇6</tspan><tspan x="813" dy="19">】</tspan></text></g>
<g id="L6a"><rect x="518" y="4991" width="248" height="41" rx="4"/><text x="523.5" y="5008"><tspan x="523.5">一、积极做好团委及各部门工作，及时整理汇</tspan><tspan x="523.5" dy="15">总组织材料。</tspan></text></g>
<g id="L6a1"><rect x="249" y="4882" width="248" height="86" rx="4"/><text x="254.5" y="4899"><tspan x="254.5">1、积极配合团委做好各项工作，及时通知</tspan><tspan x="254.5" dy="15">各团支部，在具体的活动中做好组</tspan><tspan x="254.5" dy="15">织工作，与各部默契配合、协调工作</tspan><tspan x="254.5" dy="15">，使各部门能够分工合作，高质、</tspan><tspan x="254.5" dy="15">高效地完成工作。</tspan></text></g>
<g id="L6a2"><rect x="249" y="4994" width="248" height="56" rx="4"/><text x="254.5" y="5011"><tspan x="254.5">2、及时整理团员最新名单和联系方式（</tspan><tspan x="254.5" dy="15">电话、QQ等），做到及时更新信息，</tspan><tspan x="254.5" dy="15">方便工作联系。</tspan></text></g>
<g id="L6a3"><rect x="249" y="5077" width="248" height="41" rx="4"/><text x="254.5" y="5094"><tspan x="254.5">3、做好各项会议的记录及考勤等</tspan><tspan x="254.5" dy="15">工作。</tspan></text></g>
<g id="L6b"><rect x="625" y="5319" width="141" height="26" rx="4"/><text x="630.5" y="5336">二、努力做好自身建设。</text></g>
<g id="L6b1"><rect x="354" y="5145" width="248" height="71" rx="4"/><text x="359.5" y="5162"><tspan x="359.5">1、明确部门工作方向，做好分工协作。对组</tspan><tspan x="359.5" dy="15">织部人员进行分配，使之快速熟悉分管工作，</tspan><tspan x="359.5" dy="15">各部人员做到多交流多沟通，全体成员形成一</tspan><tspan x="359.5" dy="15">个有机的整体，快速高效的完成工作。</tspan></text></g>
<g id="L6b2"><rect x="354" y="5242" width="248" height="176" rx="4"/><text x="359.5" y="5259"><tspan x="359.5">2、加强对部门干事的培养。组织部的干事都</tspan><tspan x="359.5" dy="15">是10级的新生力量，从某一方面来说他们将</tspan><tspan x="359.5" dy="15">是我院学生工作的主要力量，组织部要想做好</tspan><tspan x="359.5" dy="15">学生干部的培养工作，首先则是要做好自己部</tspan><tspan x="359.5" dy="15">门成员的培养工作。经过一学期的努力，部门</tspan><tspan x="359.5" dy="15">成员已了解自己工作，并熟悉起来，接下来则</tspan><tspan x="359.5" dy="15">是要培养他们独当一面的能力，给他们一个目</tspan><tspan x="359.5" dy="15">标，让他们自由发挥自己的能力，找到优的解</tspan><tspan x="359.5" dy="15">决方式。加强成员团队协作的观念，培养他们</tspan><tspan x="359.5" dy="15">在部门协作方面的能力，也可以将本部门形成</tspan><tspan x="359.5" dy="15">一个整体，发挥好的效率。</tspan></text></g>
<g id="L6b3"><rect x="354" y="5445" width="248" height="71" rx="4"/><text x="359.5" y="5462"><tspan x="359.5">3、加强部门成员的理论修养。在交流的过程</tspan><tspan x="359.5" dy="15">中相互介绍各自经验，争取在本学期进行几次</tspan><tspan x="359.5" dy="15">共同学习的交流会，使部门成员的理论水平得</tspan><tspan x="359.5" dy="15">到共同的提高。</tspan></text></g>
<g id="L6c"><rect x="518" y="5545" width="248" height="86" rx="4"/><text x="523.5" y="5562"><tspan x="523.5">三、这学期里，组织部的常规工作有：五四评</tspan><tspan x="523.5" dy="15">优、换届大会等，为了保证组织部成员能够各</tspan><tspan x="523.5" dy="15">司其职，我们将对部门成员早动员、早通知、</tspan><tspan x="523.5" dy="15">早培训、早安排。确保组织部的成员能够顺利</tspan><tspan x="523.5" dy="15">进行工作。</tspan></text></g>
<g id="L6d"><rect x="683" y="5717" width="83" height="26" rx="4"/><text x="688.5" y="5734">四、学期活动</text></g>
<g id="L6d1"><rect x="413" y="5656" width="248" height="146" rx="4"/><text x="418.5" y="5673"><tspan x="418.5">这学期要看学校的工作安排，如果时间允许，</tspan><tspan x="418.5" dy="15">不和学习与工作发生冲突的话，组织部将会考</tspan><tspan x="418.5" dy="15">虑举办一些活动，这学期举办的活动将由干事</tspan><tspan x="418.5" dy="15">自己策划，让他们凭借自己的能力举办活动，</tspan><tspan x="418.5" dy="15">根据部门干事所写的展望，这学期的活动计划</tspan><tspan x="418.5" dy="15">有：团委交流活动、专业培训活动、为迎接大</tspan><tspan x="418.5" dy="15">运的晨运活动、辩论赛（上学期和信工、师院</tspan><tspan x="418.5" dy="15">、数院的辩论赛团委没有参与，新的学期争取</tspan><tspan x="418.5" dy="15">和其他院的合作，打开知名度）。</tspan></text></g>

<g id="L8"><rect class="m" x="787" y="6268" width="290" height="55" rx="27.5"/><text class="t2" x="813" y="6291.5"><tspan x="813">班级团支部2023年工作计划【篇8</tspan><tspan x="813" dy="19">】</tspan></text></g>
<g id="L8a"><rect x="518" y="5830" width="248" height="161" rx="4"/><text x="523.5" y="5847"><tspan x="523.5">新的学校，新的同学，新的环境，新的生活在</tspan><tspan x="523.5" dy="15">20XX年1月就此拉开序幕。对于刚进入上理</tspan><tspan x="523.5" dy="15">校园的五湖四海的同学们，彼此还不是很熟悉</tspan><tspan x="523.5" dy="15">;对于新组建的班级团支部，彼此还需要磨合</tspan><tspan x="523.5" dy="15">。通过一个月的熟悉和交流，并且根据医疗器</tspan><tspan x="523.5" dy="15">材与食品学院团委组织部工作计划的有关文件</tspan><tspan x="523.5" dy="15">以及相关会议精神，结合目前我们班级团支部</tspan><tspan x="523.5" dy="15">的自身情况和同学们的意愿，经过班委的讨论</tspan><tspan x="523.5" dy="15">以及班会的开展。团委特此制定了09-10学年</tspan><tspan x="523.5" dy="15">下半学期的工作计划。</tspan></text></g>
<g id="L8b"><rect x="518" y="6019" width="248" height="146" rx="4"/><text x="523.5" y="6036"><tspan x="523.5">为切实、有效地加强本支部建设，落实好学部</tspan><tspan x="523.5" dy="15">团委下达的各项文件精神，全面提高团委素质</tspan><tspan x="523.5" dy="15">，我团支部决定本学期以增进班级凝聚力，培</tspan><tspan x="523.5" dy="15">养学习习惯和风气，形成有特色、团结和睦的</tspan><tspan x="523.5" dy="15">团支部为目标，积极开展学习、科技、公益、</tspan><tspan x="523.5" dy="15">文体等活动，提高同学们的思想觉悟以及增进</tspan><tspan x="523.5" dy="15">同学和学校、同学和老师、同学之间的沟通了</tspan><tspan x="523.5" dy="15">解，丰富团支部文化活动，同时为以后的进一</tspan><tspan x="523.5" dy="15">步了解沟通，开张班集体活动打下基础。</tspan></text></g>
<g id="L8c"><rect x="518" y="6192" width="248" height="131" rx="4"/><text x="523.5" y="6209"><tspan x="523.5">首先，在思想建设方面，我团支部希望以各位</tspan><tspan x="523.5" dy="15">同学对于团组织的认识以及相关经历为切入点</tspan><tspan x="523.5" dy="15">，按照共青团市委对当代大学生的要求，并且</tspan><tspan x="523.5" dy="15">可以充分发挥班级党员和入党积极分子先锋模</tspan><tspan x="523.5" dy="15">范作用，采用生动有效的来组织班级同学进行</tspan><tspan x="523.5" dy="15">思想建设。我团支部会利用多媒体资源，以开</tspan><tspan x="523.5" dy="15">班会或者投稿的方式，来开展团支部思想建设</tspan><tspan x="523.5" dy="15">活动。</tspan></text></g>
<g id="L8d"><rect x="518" y="6351" width="248" height="146" rx="4"/><text x="523.5" y="6368"><tspan x="523.5">其次，在寝室卫生方面，将尽力减少我团支部</tspan><tspan x="523.5" dy="15">在这方面的失分，我团支部采取班委轮流检测</tspan><tspan x="523.5" dy="15">和不定期的抽查（轮值班委每天中午11点50</tspan><tspan x="523.5" dy="15">时进行提前卫生检查，并不定期不定时对各寝</tspan><tspan x="523.5" dy="15">室的违规电器等进行抽查），加强同学对寝室</tspan><tspan x="523.5" dy="15">卫生方面的重视程度，将挂黑牌的可能性降到</tspan><tspan x="523.5" dy="15">最低。调动起同学对卫生工作的积极性，营造</tspan><tspan x="523.5" dy="15">出干净整洁，舒适温馨，适合学习和生活的寝</tspan><tspan x="523.5" dy="15">室环境。</tspan></text></g>
<g id="L8e"><rect x="518" y="6524" width="248" height="311" rx="4"/><text x="523.5" y="6541"><tspan x="523.5">在组织生活方面，因为新团支部刚刚组建，彼</tspan><tspan x="523.5" dy="15">此熟悉交流还需加强，为了尽早融入新的班集</tspan><tspan x="523.5" dy="15">体，增进班级团员的凝聚力，同时坚持全面贯</tspan><tspan x="523.5" dy="15">彻党的教育方针，以培养大学生的“思想政治</tspan><tspan x="523.5" dy="15">素质为核心，以培养创新精神和实践能力为重</tspan><tspan x="523.5" dy="15">点，普遍提高大学生的人文素质和科学素质，</tspan><tspan x="523.5" dy="15">努力形成大学生自觉参与教育的积极导向，引</tspan><tspan x="523.5" dy="15">导和帮助广大学生完善智能结构，提高人才培</tspan><tspan x="523.5" dy="15">养质量，增强学生就业核心能力”的指导思想</tspan><tspan x="523.5" dy="15">，并且参考班级团员的切实情况以及自身意愿</tspan><tspan x="523.5" dy="15">，积极策划一些具有积极意义和特色的活动，</tspan><tspan x="523.5" dy="15">比如游览城隍庙，参观上海博物馆，档案馆等</tspan><tspan x="523.5" dy="15">一些既能了解上海风土人情、我国历史文化，</tspan><tspan x="523.5" dy="15">又能增进同学互动性的活动。对于组织生活的</tspan><tspan x="523.5" dy="15">安排，由团支部组织委员主要负责，其他班委</tspan><tspan x="523.5" dy="15">积极配合的形式，遇到一些细节问题与困难，</tspan><tspan x="523.5" dy="15">及时和组织部负责人联系，尽全力把组织活动</tspan><tspan x="523.5" dy="15">搞得丰富多彩，实现活动组织层次化、活动形</tspan><tspan x="523.5" dy="15">式多样化、活动内容多元化、活动主体全员化</tspan><tspan x="523.5" dy="15">，使班级同学积极参与其中。</tspan></text></g>
</g>
</svg>
